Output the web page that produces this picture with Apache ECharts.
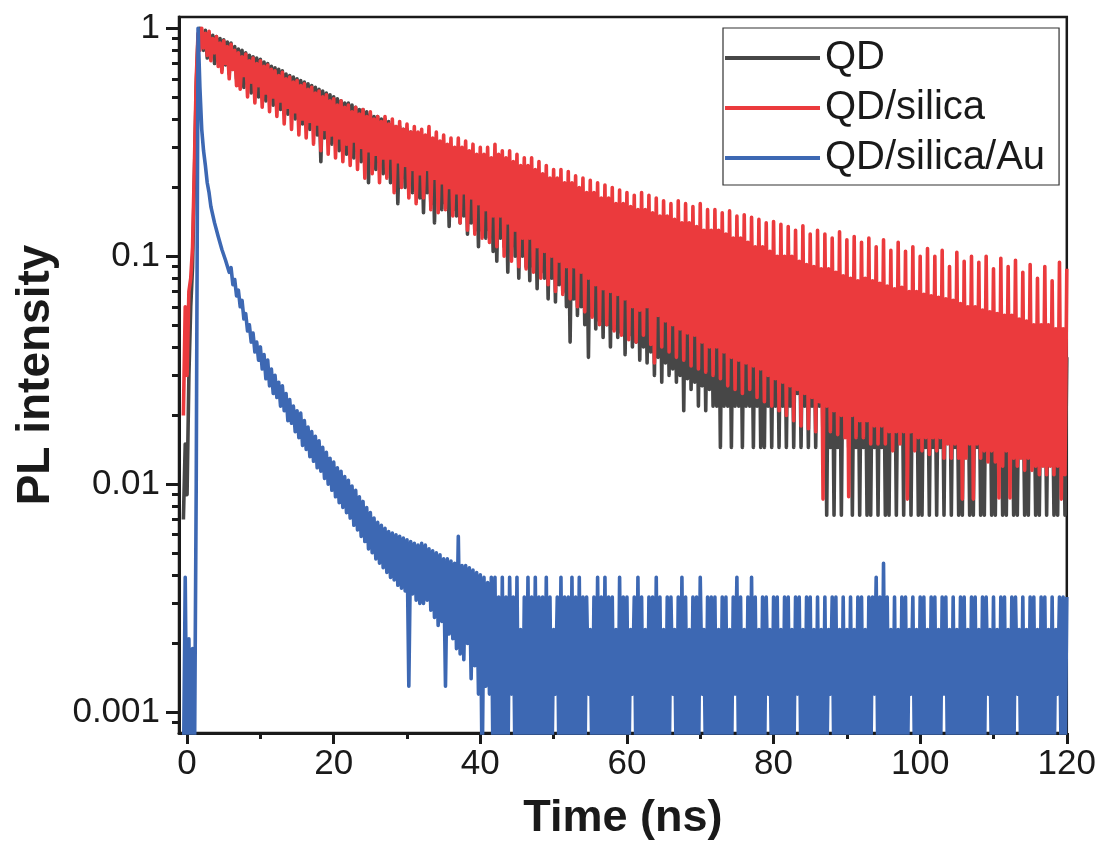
<!DOCTYPE html>
<html>
<head>
<meta charset="utf-8">
<script src="https://cdn.jsdelivr.net/npm/echarts@6/dist/echarts.min.js"></script>
<style>html,body{margin:0;padding:0;background:#fff}#c{width:1099px;height:846px}</style>
</head>
<body>
<div id="c"></div>
<script>
// ---- data ----
const seriesNames = ['QD', 'QD/silica', 'QD/silica/Au'];
const timeStart = -0.5;   // ns, first sample
const timeStep = 0.25;    // ns between samples

const qd = [
0.007,0.015,0.009,0.03,0.06,0.09,0.22,0.55,0.92,1.0,
1.0,0.80,0.98,0.74,0.95,0.76,0.93,0.70,0.92,0.72,
0.90,0.66,0.89,0.69,0.87,0.63,0.86,0.66,0.83,0.60,
0.81,0.58,0.80,0.55,0.78,0.57,0.76,0.52,0.75,0.54,
0.74,0.50,0.73,0.52,0.71,0.48,0.70,0.50,0.68,0.46,
0.67,0.48,0.66,0.44,0.65,0.46,0.63,0.42,0.62,0.44,
0.61,0.40,0.60,0.42,0.59,0.38,0.58,0.40,0.57,0.36,
0.56,0.38,0.55,0.34,0.54,0.26,0.53,0.33,0.52,0.35,
0.51,0.31,0.50,0.33,0.49,0.29,0.48,0.31,0.47,0.28,
0.47,0.30,0.46,0.27,0.45,0.29,0.44,0.26,0.44,0.28,
0.43,0.21,0.42,0.27,0.41,0.24,0.41,0.26,0.40,0.23,
0.40,0.25,0.39,0.21,0.38,0.23,0.37,0.17,0.37,0.22,
0.36,0.20,0.36,0.21,0.35,0.19,0.35,0.20,0.34,0.18,
0.34,0.155,0.33,0.19,0.33,0.17,0.32,0.14,0.32,0.18,
0.31,0.16,0.31,0.17,0.30,0.135,0.30,0.16,0.29,0.15,
0.29,0.14,0.28,0.15,0.28,0.125,0.27,0.14,0.27,0.13,
0.26,0.11,0.26,0.13,0.25,0.12,0.25,0.13,0.24,0.105,
0.25,0.095,0.24,0.12,0.24,0.11,0.23,0.085,0.23,0.11,
0.22,0.10,0.22,0.08,0.21,0.10,0.21,0.09,0.20,0.078,
0.21,0.09,0.20,0.072,0.20,0.085,0.19,0.08,0.19,0.065,
0.185,0.08,0.18,0.063,0.18,0.075,0.175,0.07,0.17,0.06,
0.17,0.042,0.165,0.065,0.165,0.055,0.16,0.06,0.16,0.05,
0.155,0.036,0.155,0.055,0.15,0.048,0.15,0.052,0.145,0.044,
0.145,0.05,0.14,0.04,0.14,0.048,0.135,0.044,0.135,0.046,
0.13,0.037,0.13,0.045,0.128,0.04,0.125,0.042,0.125,0.035,
0.125,0.04,0.12,0.034,0.12,0.038,0.118,0.03,0.118,0.036,
0.115,0.028,0.115,0.034,0.11,0.03,0.11,0.032,0.108,0.028,
0.108,0.03,0.105,0.021,0.105,0.029,0.10,0.026,0.10,0.028,
0.098,0.022,0.098,0.027,0.095,0.021,0.095,0.026,0.092,0.022,
0.092,0.022,0.09,0.0145,0.09,0.022,0.088,0.022,0.088,0.0145,
0.085,0.022,0.085,0.022,0.083,0.0145,0.083,0.022,0.08,0.022,
0.08,0.0145,0.078,0.022,0.078,0.0145,0.076,0.0145,0.076,0.022,
0.074,0.0145,0.074,0.022,0.072,0.0145,0.072,0.022,0.07,0.0145,
0.07,0.022,0.068,0.0145,0.068,0.025,0.066,0.0145,0.066,0.022,
0.064,0.0145,0.064,0.022,0.062,0.0145,0.062,0.022,0.06,0.0145,
0.06,0.0073,0.058,0.0145,0.058,0.0073,0.057,0.0145,0.057,0.0073,
0.056,0.022,0.056,0.0145,0.055,0.0073,0.055,0.0145,0.054,0.0073,
0.054,0.0145,0.053,0.0073,0.053,0.0073,0.052,0.0145,0.052,0.0073,
0.051,0.0145,0.051,0.0073,0.05,0.0073,0.05,0.0145,0.05,0.0073,
0.05,0.022,0.049,0.0073,0.049,0.0145,0.048,0.0073,0.048,0.0145,
0.047,0.0073,0.047,0.0073,0.046,0.0145,0.046,0.0073,0.045,0.0145,
0.045,0.0073,0.045,0.0145,0.044,0.0073,0.044,0.022,0.044,0.0073,
0.043,0.0145,0.043,0.0073,0.042,0.0073,0.042,0.0145,0.042,0.0073,
0.042,0.0073,0.041,0.0145,0.041,0.0073,0.041,0.0073,0.04,0.0145,
0.04,0.0073,0.04,0.0073,0.039,0.0145,0.039,0.0073,0.039,0.0073,
0.04,0.0145,0.039,0.0073,0.039,0.0073,0.038,0.0145,0.038,0.0073,
0.038,0.0073,0.037,0.0145,0.037,0.0073,0.037,0.0073,0.036,0.0145,
0.037,0.0073,0.037,0.0145,0.036,0.0073,0.036,0.0073,0.036,0.0145,
0.035,0.0073,0.036
];

const qdSilica = [
0.02,0.06,0.03,0.07,0.08,0.11,0.25,0.6,0.95,0.8,
1.0,0.82,0.95,0.76,0.97,0.72,0.90,0.78,0.92,0.68,
0.86,0.64,0.88,0.70,0.83,0.60,0.85,0.66,0.80,0.56,
0.78,0.54,0.75,0.62,0.77,0.50,0.72,0.58,0.74,0.47,
0.70,0.56,0.72,0.45,0.68,0.52,0.69,0.43,0.66,0.50,
0.65,0.41,0.62,0.48,0.64,0.38,0.60,0.45,0.61,0.36,
0.58,0.43,0.59,0.34,0.56,0.40,0.57,0.33,0.54,0.39,
0.55,0.31,0.52,0.38,0.53,0.29,0.50,0.36,0.51,0.28,
0.48,0.34,0.49,0.27,0.46,0.33,0.48,0.26,0.45,0.31,
0.46,0.25,0.43,0.32,0.45,0.24,0.42,0.30,0.44,0.22,
0.41,0.29,0.43,0.23,0.40,0.28,0.41,0.21,0.39,0.27,
0.41,0.22,0.38,0.27,0.40,0.19,0.37,0.26,0.39,0.20,
0.36,0.25,0.38,0.18,0.35,0.24,0.37,0.17,0.35,0.23,
0.36,0.18,0.34,0.24,0.37,0.16,0.33,0.22,0.35,0.155,
0.32,0.21,0.34,0.16,0.31,0.20,0.33,0.15,0.30,0.19,
0.33,0.14,0.30,0.19,0.32,0.13,0.29,0.18,0.31,0.125,
0.28,0.17,0.30,0.12,0.28,0.16,0.30,0.115,0.27,0.15,
0.31,0.11,0.28,0.15,0.29,0.10,0.27,0.14,0.29,0.095,
0.26,0.13,0.28,0.09,0.25,0.12,0.27,0.088,0.25,0.12,
0.27,0.085,0.24,0.11,0.26,0.08,0.23,0.105,0.25,0.075,
0.22,0.10,0.24,0.07,0.22,0.095,0.24,0.068,0.21,0.09,
0.235,0.065,0.21,0.09,0.225,0.06,0.20,0.085,0.22,0.057,
0.19,0.08,0.215,0.054,0.19,0.075,0.21,0.05,0.18,0.072,
0.205,0.05,0.18,0.07,0.20,0.047,0.17,0.068,0.195,0.045,
0.17,0.065,0.19,0.043,0.165,0.06,0.185,0.042,0.16,0.058,
0.19,0.045,0.16,0.06,0.185,0.041,0.155,0.034,0.18,0.055,
0.15,0.04,0.175,0.052,0.15,0.038,0.17,0.05,0.145,0.036,
0.175,0.048,0.14,0.035,0.17,0.046,0.14,0.033,0.165,0.045,
0.135,0.032,0.17,0.042,0.13,0.031,0.16,0.04,0.13,0.03,
0.16,0.04,0.13,0.029,0.155,0.038,0.125,0.027,0.158,0.036,
0.12,0.026,0.15,0.035,0.12,0.025,0.152,0.034,0.115,0.026,
0.148,0.033,0.11,0.024,0.145,0.032,0.11,0.023,0.14,0.03,
0.105,0.022,0.142,0.029,0.10,0.021,0.138,0.028,0.10,0.02,
0.135,0.027,0.10,0.019,0.13,0.026,0.095,0.018,0.136,0.025,
0.092,0.0175,0.125,0.024,0.09,0.017,0.13,0.023,0.088,0.0086,
0.125,0.022,0.088,0.017,0.12,0.021,0.085,0.0165,0.128,0.02,
0.082,0.016,0.118,0.0088,0.08,0.02,0.122,0.016,0.078,0.019,
0.115,0.016,0.08,0.019,0.12,0.015,0.078,0.018,0.11,0.015,
0.076,0.018,0.118,0.015,0.074,0.017,0.106,0.014,0.072,0.017,
0.115,0.015,0.073,0.017,0.105,0.0086,0.07,0.017,0.11,0.014,
0.07,0.016,0.10,0.014,0.068,0.016,0.108,0.0135,0.067,0.016,
0.10,0.014,0.066,0.016,0.106,0.013,0.065,0.015,0.09,0.013,
0.064,0.015,0.104,0.013,0.062,0.0086,0.095,0.013,0.06,0.015,
0.10,0.0086,0.06,0.015,0.094,0.013,0.058,0.014,0.10,0.0125,
0.057,0.014,0.088,0.0125,0.056,0.0087,0.098,0.012,0.055,0.014,
0.09,0.0087,0.055,0.013,0.096,0.012,0.053,0.013,0.085,0.0115,
0.052,0.013,0.092,0.0115,0.05,0.012,0.08,0.011,0.05,0.012,
0.09,0.011,0.05,0.012,0.078,0.011,0.048,0.012,0.094,0.0086,
0.048,0.011,0.088
];

const qdSilicaAu = [
0.0005,0.0039,0.0005,0.0021,0.0005,0.0019,0.0005,0.01,1.0,0.55,
0.36,0.29,0.25,0.21,0.19,0.165,0.162,0.14,0.138,0.122,
0.122,0.107,0.109,0.096,0.097,0.085,0.089,0.075,0.079,0.067,
0.071,0.060,0.064,0.053,0.056,0.047,0.050,0.042,0.046,0.038,
0.042,0.035,0.040,0.032,0.037,0.029,0.035,0.027,0.032,0.025,
0.030,0.024,0.028,0.022,0.027,0.021,0.025,0.019,0.0235,0.0185,
0.022,0.017,0.021,0.016,0.0205,0.0148,0.019,0.0142,0.0178,0.0132,
0.017,0.0126,0.0162,0.0118,0.0155,0.0114,0.0145,0.0106,0.0138,0.010,
0.013,0.0094,0.0125,0.0088,0.0118,0.0083,0.0114,0.0079,0.0108,0.0075,
0.0104,0.0071,0.0098,0.0066,0.0094,0.0063,0.0088,0.0059,0.0084,0.0056,
0.0079,0.0052,0.0075,0.005,0.0071,0.0047,0.0068,0.0045,0.0066,0.0043,
0.0064,0.0041,0.0062,0.0039,0.0061,0.0038,0.006,0.0036,0.0059,0.0035,
0.0058,0.0034,0.0057,0.0013,0.0056,0.0033,0.0055,0.0031,0.0054,0.003,
0.0055,0.003,0.0054,0.0031,0.0052,0.0028,0.0051,0.0026,0.005,0.0024,
0.0049,0.0025,0.0047,0.0013,0.0047,0.0022,0.0046,0.0021,0.0045,0.0019,
0.0059,0.0018,0.0044,0.0017,0.0044,0.002,0.0043,0.0014,0.0042,0.0016,
0.0041,0.0012,0.004,0.0005,0.0039,0.0013,0.0037,0.0012,0.0039,0.0005,
0.0039,0.0005,0.0032,0.0005,0.0039,0.0005,0.0032,0.0005,0.0039,0.0012,
0.0032,0.0005,0.0039,0.0005,0.0023,0.0005,0.0032,0.0005,0.0039,0.0005,
0.0032,0.0005,0.0039,0.0005,0.0032,0.0005,0.0032,0.0005,0.0039,0.0005,
0.0032,0.0005,0.0023,0.0012,0.0032,0.0005,0.0039,0.0005,0.0032,0.0005,
0.0032,0.0005,0.0039,0.0005,0.0032,0.0005,0.0039,0.0005,0.0032,0.0005,
0.0032,0.0012,0.0023,0.0005,0.0032,0.0005,0.0039,0.0005,0.0032,0.0005,
0.0039,0.0005,0.0032,0.0005,0.0032,0.0005,0.0023,0.0005,0.0039,0.0005,
0.0032,0.0005,0.0032,0.0005,0.0023,0.0012,0.0032,0.0005,0.0039,0.0005,
0.0032,0.0005,0.0023,0.0005,0.0032,0.0005,0.0032,0.0005,0.0039,0.0005,
0.0032,0.0005,0.0023,0.0005,0.0032,0.0005,0.0032,0.0012,0.0023,0.0005,
0.0032,0.0005,0.0039,0.0005,0.0032,0.0005,0.0023,0.0005,0.0032,0.0005,
0.0032,0.0005,0.0039,0.0012,0.0023,0.0005,0.0032,0.0005,0.0032,0.0005,
0.0032,0.0005,0.0023,0.0005,0.0032,0.0005,0.0032,0.0005,0.0023,0.0005,
0.0032,0.0012,0.0039,0.0005,0.0032,0.0005,0.0023,0.0005,0.0032,0.0005,
0.0039,0.0005,0.0032,0.0005,0.0023,0.0005,0.0032,0.0005,0.0032,0.0012,
0.0023,0.0005,0.0032,0.0005,0.0032,0.0005,0.0023,0.0005,0.0032,0.0005,
0.0032,0.0005,0.0023,0.0005,0.0032,0.0012,0.0032,0.0005,0.0023,0.0005,
0.0032,0.0005,0.0032,0.0005,0.0023,0.0005,0.0032,0.0005,0.0023,0.0005,
0.0032,0.0005,0.0023,0.0012,0.0032,0.0005,0.0032,0.0005,0.0023,0.0005,
0.0032,0.0005,0.0023,0.0005,0.0032,0.0005,0.0023,0.0005,0.0032,0.0005,
0.0032,0.0005,0.0023,0.0005,0.0032,0.0005,0.0032,0.0012,0.0039,0.0005,
0.0032,0.0005,0.0045,0.0005,0.0032,0.0005,0.0023,0.0005,0.0032,0.0005,
0.0023,0.0005,0.0032,0.0005,0.0032,0.0005,0.0023,0.0012,0.0032,0.0005,
0.0023,0.0005,0.0032,0.0005,0.0032,0.0005,0.0023,0.0005,0.0032,0.0005,
0.0032,0.0005,0.0023,0.0005,0.0032,0.0012,0.0032,0.0005,0.0023,0.0005,
0.0032,0.0005,0.0023,0.0005,0.0032,0.0005,0.0032,0.0005,0.0023,0.0005,
0.0032,0.0005,0.0032,0.0005,0.0023,0.0005,0.0032,0.0005,0.0032,0.0012,
0.0023,0.0005,0.0032,0.0005,0.0023,0.0005,0.0032,0.0005,0.0032,0.0005,
0.0023,0.0005,0.0032,0.0005,0.0032,0.0012,0.0023,0.0005,0.0032,0.0005,
0.0023,0.0005,0.0032,0.0005,0.0032,0.0005,0.0023,0.0005,0.0032,0.0005,
0.0032,0.0005,0.0023,0.0005,0.0032,0.0005,0.0023,0.0012,0.0032,0.0005,
0.0032,0.0005,0.0032
];

const xTickLabels = [0, 20, 40, 60, 80, 100, 120];
const xMinorTicks = [10, 30, 50, 70, 90, 110];
const yTickLabels = [0.001, 0.01, 0.1, 1];
const yMinorTicks = [0.0009,
  0.002,0.003,0.004,0.005,0.006,0.007,0.008,0.009,
  0.02,0.03,0.04,0.05,0.06,0.07,0.08,0.09,
  0.2,0.3,0.4,0.5,0.6,0.7,0.8,0.9];

// ---- chart ----
const FONT = '"Liberation Sans", Arial, Helvetica, sans-serif';
const INK = '#1a1a1a';
const colors = ['#474747', '#eb3a3d', '#3d68b3'];
const toPoints = arr => arr.map((v, i) => [timeStart + i * timeStep, v]);

const X_MIN = -1.1, X_MAX = 120;
const Y_MIN = 0.00081, Y_MAX = 1.12;

const chart = echarts.init(document.getElementById('c'), null, {renderer: 'canvas'});
const lineSeries = (name, data, color) => ({
  name, type: 'line', data: toPoints(data), xAxisIndex: 0, yAxisIndex: 0,
  symbol: 'none', showSymbol: false, clip: true, sampling: null,
  lineStyle: {color, width: 3.6, join: 'round'}, itemStyle: {color},
  emphasis: {disabled: true}
});

chart.setOption({
  animation: false,
  grid: {left: 179, right: 32, top: 17, bottom: 113, show: true,
         borderColor: INK, borderWidth: 2.5, backgroundColor: 'transparent'},
  legend: {
    orient: 'vertical', left: 723, top: 28, padding: [8, 14, 5, 2],
    itemWidth: 95, itemHeight: 4, itemGap: 6, icon: 'rect',
    borderColor: '#333', borderWidth: 1.2,
    textStyle: {fontFamily: FONT, fontSize: 40, color: INK, lineHeight: 44},
    data: seriesNames
  },
  xAxis: [
    {
      type: 'value', min: X_MIN, max: X_MAX, position: 'bottom',
      name: 'Time (ns)', nameLocation: 'middle', nameGap: 63,
      nameTextStyle: {fontFamily: FONT, fontSize: 45, fontWeight: 'bold', color: INK},
      axisLine: {show: true, onZero: false, lineStyle: {color: INK, width: 3}},
      axisTick: {show: true, inside: false, length: 11, customValues: xTickLabels,
                 lineStyle: {color: INK, width: 3}},
      axisLabel: {show: true, customValues: xTickLabels, margin: 14,
                  fontFamily: FONT, fontSize: 35, color: INK},
      splitLine: {show: false}
    },
    {
      type: 'value', min: X_MIN, max: X_MAX, position: 'bottom',
      axisLine: {show: false, onZero: false},
      axisTick: {show: true, inside: false, length: 6, customValues: xMinorTicks,
                 lineStyle: {color: INK, width: 3}},
      axisLabel: {show: false}, splitLine: {show: false}
    }
  ],
  yAxis: [
    {
      type: 'log', logBase: 10, min: Y_MIN, max: Y_MAX, position: 'left',
      name: 'PL intensity', nameLocation: 'middle', nameGap: 120,
      nameTextStyle: {fontFamily: FONT, fontSize: 46, fontWeight: 'bold', color: INK},
      axisLine: {show: true, onZero: false, lineStyle: {color: INK, width: 3}},
      axisTick: {show: true, inside: false, length: 13, customValues: yTickLabels,
                 lineStyle: {color: INK, width: 3}},
      axisLabel: {show: true, customValues: yTickLabels, margin: 19,
                  fontFamily: FONT, fontSize: 35, color: INK,
                  formatter: v => String(+Number(v).toPrecision(3))},
      splitLine: {show: false}, minorTick: {show: false}
    },
    {
      type: 'log', logBase: 10, min: Y_MIN, max: Y_MAX, position: 'left',
      axisLine: {show: false, onZero: false},
      axisTick: {show: true, inside: false, length: 7, customValues: yMinorTicks,
                 lineStyle: {color: INK, width: 3}},
      axisLabel: {show: false}, splitLine: {show: false}
    }
  ],
  series: [
    lineSeries(seriesNames[0], qd, colors[0]),
    lineSeries(seriesNames[1], qdSilica, colors[1]),
    lineSeries(seriesNames[2], qdSilicaAu, colors[2])
  ]
});
</script>
</body>
</html>
